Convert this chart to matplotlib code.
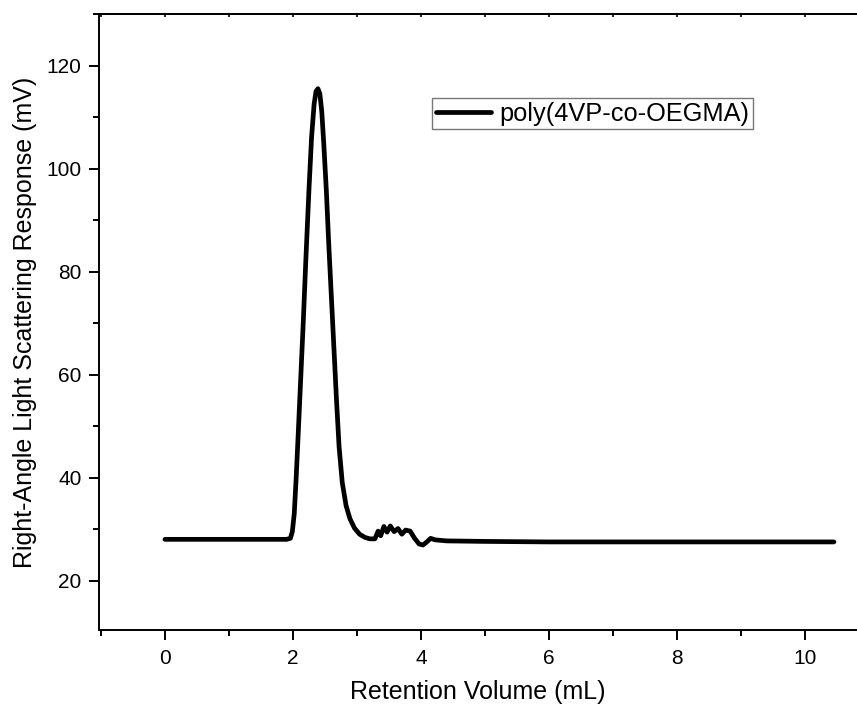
import matplotlib.pyplot as plt
from matplotlib.ticker import MultipleLocator

plt.rcParams['font.family'] = ['Liberation Sans', 'DejaVu Sans']

# retention volume (mL) and light scattering response (mV)
volume = [0.00, 0.50, 1.00, 1.50, 1.90, 1.96, 1.99, 2.02, 2.05, 2.08, 2.12, 2.16,
          2.20, 2.25, 2.29, 2.33, 2.36, 2.39, 2.42, 2.45, 2.48, 2.52, 2.56, 2.60,
          2.64, 2.68, 2.72, 2.77, 2.83, 2.89, 2.96, 3.04, 3.12, 3.20, 3.28, 3.33,
          3.37, 3.42, 3.47, 3.52, 3.58, 3.64, 3.70, 3.76, 3.83, 3.90, 3.97, 4.03,
          4.10, 4.15, 4.22, 4.40, 5.00, 6.00, 7.00, 8.00, 9.00, 10.00, 10.45]
response = [28.0, 28.0, 28.0, 28.0, 28.0, 28.2, 29.5, 33.0, 40.0, 48.0, 59.0, 70.0,
            82.0, 96.0, 106.0, 112.5, 115.0, 115.5, 114.5, 111.0, 105.0, 96.0, 85.0, 75.0,
            65.0, 55.0, 46.0, 39.0, 34.5, 32.0, 30.2, 29.0, 28.4, 28.1, 28.1, 29.6,
            28.7, 30.5, 29.4, 30.6, 29.5, 30.1, 29.0, 29.8, 29.6, 28.2, 27.1, 26.9,
            27.6, 28.2, 27.9, 27.7, 27.6, 27.5, 27.5, 27.5, 27.5, 27.5, 27.5]

series_label = 'poly(4VP-co-OEGMA)'

fig = plt.figure(figsize=(8.57, 7.04), dpi=100)
ax = fig.add_axes([99 / 857, 1 - 630 / 704, 758 / 857, 616 / 704])

ax.plot(volume, response, color='black', linewidth=3.4, label=series_label,
        solid_joinstyle='round', solid_capstyle='round')

ax.set_xlim(-1.03, 10.81)
ax.set_ylim(10.4, 130)
ax.xaxis.set_major_locator(MultipleLocator(2))
ax.xaxis.set_minor_locator(MultipleLocator(1))
ax.yaxis.set_major_locator(MultipleLocator(20))
ax.yaxis.set_minor_locator(MultipleLocator(10))

ax.spines['right'].set_visible(False)
for s in ['left', 'bottom', 'top']:
    ax.spines[s].set_linewidth(1.4)

ax.tick_params(axis='both', which='major', direction='out', length=7.5, width=1.4,
               labelsize=15)
ax.tick_params(axis='both', which='minor', direction='out', length=4.5, width=1.4)
ax.tick_params(axis='x', which='major', pad=6)
ax.tick_params(axis='y', which='major', pad=5)

# tiny inward ticks on the top edge
top = ax.secondary_xaxis('top')
top.xaxis.set_major_locator(MultipleLocator(1))
top.tick_params(direction='in', length=2, width=1.2, labeltop=False)
top.spines['top'].set_linewidth(1.4)

ax.set_xlabel('Retention Volume (mL)', fontsize=18, labelpad=9)
ax.set_ylabel('Right-Angle Light Scattering Response (mV)', fontsize=18, labelpad=7)

leg = ax.legend(loc='upper left', bbox_to_anchor=(0.439, 0.864), fontsize=18.3,
                frameon=True, fancybox=False, borderpad=0.15, handlelength=2.2,
                handletextpad=0.3, borderaxespad=0)
leg.get_frame().set_edgecolor('#555555')
leg.get_frame().set_linewidth(1.0)

plt.savefig('out.png', dpi=100)
